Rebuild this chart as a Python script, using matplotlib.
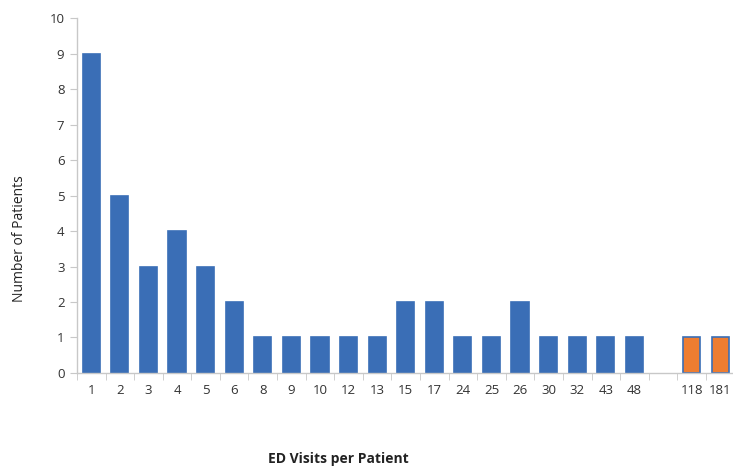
import matplotlib
matplotlib.use("Agg")
import matplotlib.pyplot as plt
import numpy as np

categories = ["1", "2", "3", "4", "5", "6", "8", "9", "10", "12", "13", "15", "17",
              "24", "25", "26", "30", "32", "43", "48", "", "118", "181"]
values = [9, 5, 3, 4, 3, 2, 1, 1, 1, 1, 1, 2, 2, 1, 1, 2, 1, 1, 1, 1, 0, 1, 1]
highlight = ["118", "181"]

plt.rcParams['font.family'] = ['Open Sans', 'DejaVu Sans']

fig = plt.figure(figsize=(7.33, 4.68), dpi=100)
ax = fig.add_axes([0.105, 0.203, 0.897, 0.7585])

blue = "#3A6EB6"
orange = "#EE7D31"
x = np.arange(len(categories))
colors = [orange if c in highlight else blue for c in categories]
lws = [1.2 if v > 0 else 0 for v in values]
ax.bar(x, values, width=0.6, color=colors, edgecolor=blue, linewidth=lws)

ax.set_xlim(-0.5, len(categories) - 0.5)
ax.set_ylim(0, 10)
ax.set_yticks(range(0, 11))
ax.set_xticks(x)
ax.set_xticklabels(categories)
ax.set_xticks(np.arange(-0.5, len(categories), 1), minor=True)
ax.tick_params(axis='x', which='major', length=0, labelsize=9.5, colors='#333333', pad=8)
ax.tick_params(axis='x', which='minor', length=5, color='#c8c8c8', direction='out')
ax.tick_params(axis='y', length=5, color='#c8c8c8', labelsize=9.5, labelcolor='#333333', pad=4)

for s in ['top', 'right']:
    ax.spines[s].set_visible(False)
for s in ['left', 'bottom']:
    ax.spines[s].set_color('#c8c8c8')
    ax.spines[s].set_linewidth(1)

fig.text(0.026, 0.49, "Number of Patients", rotation=90, ha='center', va='center',
         fontsize=10, color='#222222')
fig.text(0.461, 0.02, "ED Visits per Patient", ha='center', va='center',
         fontsize=10, fontweight='bold', color='#222222')

fig.savefig("out.png", dpi=100)
